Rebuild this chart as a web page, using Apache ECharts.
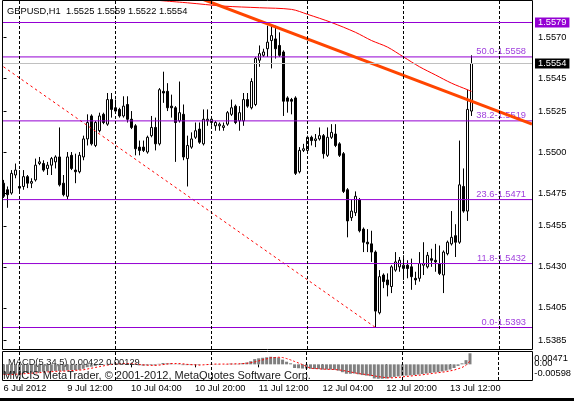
<!DOCTYPE html>
<html>
<head>
<meta charset="utf-8">
<script src="https://cdn.jsdelivr.net/npm/echarts@6.0.0/dist/echarts.min.js"></script>
<style>
html, body { margin: 0; padding: 0; background: #fff; }
#container { width: 574px; height: 401px; }
</style>
</head>
<body>
<div id="container"></div>
<script>
// GBPUSD H1, 6 Jul 2012 20:00 .. 13 Jul 2012 17:00 (bar index 0..117)
var opens = [1.5481,1.5477,1.5475,1.5486,1.5479,1.5479,1.5485,1.5481,1.5483,1.5493,
1.5493,1.5490,1.5492,1.5494,1.5497,1.5481,1.5473,1.5498,1.5489,1.5488,
1.5497,1.5508,1.5522,1.5504,1.5513,1.5523,1.5517,1.5532,1.5527,1.5526,
1.5522,1.5529,1.5520,1.5516,1.5503,1.5503,1.5500,1.5510,1.5515,1.5505,
1.5537,1.5537,1.5528,1.5527,1.5519,1.5523,1.5496,1.5503,1.5509,1.5514,
1.5505,1.5519,1.5518,1.5516,1.5516,1.5515,1.5517,1.5523,1.5528,1.5519,
1.5519,1.5532,1.5527,1.5529,1.5556,1.5559,1.5563,1.5568,1.5569,1.5565,
1.5561,1.5533,1.5532,1.5533,1.5488,1.5501,1.5501,1.5509,1.5507,1.5508,
1.5510,1.5498,1.5509,1.5511,1.5505,1.5499,1.5477,1.5460,1.5463,1.5471,
1.5453,1.5445,1.5444,1.5439,1.5402,1.5425,1.5422,1.5418,1.5428,1.5430,
1.5429,1.5431,1.5430,1.5423,1.5423,1.5431,1.5430,1.5435,1.5434,1.5432,
1.5425,1.5438,1.5444,1.5449,1.5445,1.5479,1.5464,1.5525];
var highs = [1.5483,1.5479,1.5489,1.5493,1.5489,1.5489,1.5486,1.5484,1.5496,1.5497,
1.5495,1.5494,1.5497,1.5498,1.5515,1.5486,1.5500,1.5500,1.5499,1.5500,
1.5510,1.5523,1.5523,1.5519,1.5524,1.5524,1.5536,1.5536,1.5532,1.5527,
1.5534,1.5534,1.5525,1.5517,1.5507,1.5507,1.5510,1.5522,1.5521,1.5539,
1.5549,1.5542,1.5535,1.5528,1.5543,1.5529,1.5510,1.5512,1.5518,1.5518,
1.5526,1.5526,1.5522,1.5519,1.5518,1.5518,1.5525,1.5532,1.5529,1.5528,
1.5536,1.5536,1.5545,1.5558,1.5565,1.5563,1.5577,1.5578,1.5577,1.5573,
1.5562,1.5534,1.5533,1.5534,1.5503,1.5505,1.5510,1.5510,1.5511,1.5515,
1.5511,1.5515,1.5517,1.5517,1.5506,1.5500,1.5478,1.5471,1.5476,1.5472,
1.5454,1.5453,1.5452,1.5440,1.5428,1.5426,1.5426,1.5431,1.5439,1.5436,
1.5437,1.5434,1.5435,1.5427,1.5439,1.5445,1.5439,1.5441,1.5444,1.5443,
1.5440,1.5446,1.5464,1.5456,1.5507,1.5490,1.5538,1.5559];
var lows = [1.5472,1.5466,1.5474,1.5484,1.5475,1.5477,1.5478,1.5478,1.5482,1.5492,
1.5488,1.5486,1.5486,1.5490,1.5479,1.5473,1.5471,1.5489,1.5481,1.5487,
1.5495,1.5504,1.5504,1.5503,1.5512,1.5517,1.5516,1.5521,1.5524,1.5521,
1.5521,1.5518,1.5514,1.5498,1.5498,1.5500,1.5499,1.5509,1.5501,1.5504,
1.5530,1.5525,1.5521,1.5494,1.5518,1.5495,1.5479,1.5502,1.5508,1.5505,
1.5504,1.5516,1.5516,1.5513,1.5513,1.5513,1.5516,1.5522,1.5517,1.5513,
1.5516,1.5527,1.5526,1.5528,1.5552,1.5558,1.5558,1.5551,1.5557,1.5558,
1.5522,1.5524,1.5523,1.5486,1.5487,1.5500,1.5500,1.5504,1.5503,1.5507,
1.5496,1.5497,1.5508,1.5503,1.5497,1.5475,1.5448,1.5458,1.5461,1.5451,
1.5439,1.5439,1.5433,1.5393,1.5401,1.5417,1.5412,1.5414,1.5427,1.5427,
1.5422,1.5423,1.5416,1.5419,1.5421,1.5425,1.5429,1.5430,1.5427,1.5425,
1.5414,1.5437,1.5443,1.5436,1.5444,1.5463,1.5458,1.5522];
var closes = [1.5473,1.5474,1.5487,1.5489,1.5478,1.5485,1.5481,1.5482,1.5492,1.5494,
1.5489,1.5492,1.5496,1.5497,1.5480,1.5474,1.5497,1.5490,1.5488,1.5498,
1.5508,1.5518,1.5505,1.5518,1.5522,1.5518,1.5532,1.5526,1.5525,1.5522,
1.5528,1.5520,1.5515,1.5502,1.5501,1.5501,1.5509,1.5515,1.5505,1.5538,
1.5536,1.5527,1.5527,1.5518,1.5524,1.5497,1.5504,1.5508,1.5513,1.5506,
1.5520,1.5520,1.5520,1.5518,1.5517,1.5516,1.5524,1.5527,1.5518,1.5524,
1.5532,1.5528,1.5543,1.5557,1.5560,1.5561,1.5567,1.5571,1.5563,1.5559,
1.5531,1.5531,1.5531,1.5487,1.5501,1.5502,1.5509,1.5507,1.5508,1.5510,
1.5499,1.5509,1.5512,1.5504,1.5498,1.5476,1.5458,1.5464,1.5473,1.5452,
1.5445,1.5444,1.5439,1.5403,1.5424,1.5421,1.5419,1.5430,1.5433,1.5434,
1.5431,1.5429,1.5424,1.5422,1.5432,1.5432,1.5437,1.5434,1.5433,1.5426,
1.5439,1.5445,1.5448,1.5445,1.5480,1.5464,1.5526,1.5554];

// MACD(5,34,5): main (histogram) and signal
var macdMain = [-0.0038,-0.0038,-0.0037,-0.0036,-0.0035,-0.0034,-0.0033,-0.0032,-0.0030,-0.0029,
-0.0028,-0.0027,-0.0026,-0.0025,-0.0025,-0.0025,-0.0023,-0.0022,-0.0022,-0.0021,
-0.0017,-0.0011,-0.0009,-0.0006,-0.0003,-0.0002,0.0002,0.0003,0.0003,0.0003,
0.0004,0.0003,0.0002,-0.0002,-0.0004,-0.0005,-0.0004,-0.0003,-0.0004,0.0002,
0.0005,0.0004,0.0004,0.0001,0.0002,-0.0003,-0.0003,-0.0003,-0.0002,-0.0002,
0.0000,0.0001,0.0001,0.0001,0.0001,0.0000,0.0001,0.0003,0.0002,0.0002,
0.0005,0.0007,0.0012,0.0020,0.0023,0.0025,0.0027,0.0029,0.0028,0.0026,
0.0018,0.0010,0.0004,-0.0014,-0.0015,-0.0016,-0.0016,-0.0017,-0.0018,-0.0018,
-0.0020,-0.0020,-0.0020,-0.0021,-0.0024,-0.0030,-0.0036,-0.0036,-0.0035,-0.0038,
-0.0041,-0.0043,-0.0045,-0.0054,-0.0055,-0.0055,-0.0054,-0.0051,-0.0048,-0.0046,
-0.0044,-0.0043,-0.0042,-0.0041,-0.0039,-0.0037,-0.0035,-0.0033,-0.0031,-0.0030,
-0.0027,-0.0024,-0.0020,-0.0014,-0.0006,0.0004,0.0016,0.00422];
var macdSignal = [-0.0039,-0.0039,-0.0039,-0.0038,-0.0037,-0.0036,-0.0035,-0.0034,-0.0033,-0.0032,
-0.0030,-0.0029,-0.0028,-0.0027,-0.0026,-0.0026,-0.0025,-0.0024,-0.0023,-0.0022,
-0.0021,-0.0018,-0.0015,-0.0012,-0.0009,-0.0006,-0.0003,-0.0001,0.0001,0.0002,
0.0003,0.0003,0.0003,0.0002,0.0000,-0.0002,-0.0003,-0.0004,-0.0004,-0.0003,
-0.0001,0.0001,0.0003,0.0003,0.0003,0.0002,0.0000,-0.0001,-0.0002,-0.0003,
-0.0002,-0.0001,0.0000,0.0001,0.0001,0.0001,0.0001,0.0001,0.0002,0.0002,
0.0003,0.0004,0.0006,0.0009,0.0013,0.0017,0.0021,0.0025,0.0026,0.0027,
0.0026,0.0022,0.0017,0.0011,0.0005,-0.0001,-0.0008,-0.0015,-0.0016,-0.0017,
-0.0018,-0.0019,-0.0019,-0.0020,-0.0021,-0.0023,-0.0026,-0.0029,-0.0032,-0.0035,
-0.0037,-0.0039,-0.0041,-0.0044,-0.0047,-0.0049,-0.0051,-0.0052,-0.0051,-0.0050,
-0.0048,-0.0046,-0.0045,-0.0043,-0.0042,-0.0040,-0.0038,-0.0036,-0.0034,-0.0032,
-0.0030,-0.0028,-0.0025,-0.0022,-0.0017,-0.0012,-0.0004,0.00129];

// moving average (red thin), read at some bars
var maBars = [36, 46, 55, 64, 72, 76, 82, 88, 92, 96, 100, 104, 108, 112, 116, 117];
var maValues = [1.5593, 1.5591, 1.5589, 1.5588, 1.5587, 1.5584, 1.5579, 1.5573, 1.5568, 1.5564, 1.5558, 1.5552, 1.5547, 1.5542, 1.5538, 1.5537];

// trendlines [bar, price]
var trendLine = [[50, 1.5593], [132.125, 1.5517]];
var fibBaseLine = [[0, 1.5552], [93, 1.5393]];

// fibonacci levels and horizontal line
var fibLevels = [0.0, 11.8, 23.6, 38.2, 50.0];
var fibPrices = [1.5393, 1.5432, 1.5471, 1.5519, 1.5558];
var hLinePrice = 1.5579;

// axes
var priceTicks = [1.5570, 1.5545, 1.5525, 1.5500, 1.5475, 1.5455, 1.5430, 1.5405, 1.5385];
var timeTickBars = [0, 16, 32, 48, 64, 80, 96, 112];
var timeTickLabels = ['6 Jul 2012', '9 Jul 12:00', '10 Jul 04:00', '10 Jul 20:00', '11 Jul 12:00', '12 Jul 04:00', '12 Jul 20:00', '13 Jul 12:00'];
var dayGridBars = [4, 28, 52, 76, 100, 124];
var macdLabels = ['0.00471', '0.00', '-0.00598'];
var macdLabelPos = [0.0023, 0.0004, -0.0034];

var font = 'Liberation Sans';
var violet = '#9400d3';
var xMin = -0.375, xMax = 132.125;
var last = opens.length - 1;

var dom = document.getElementById('container');
var myChart = echarts.init(dom, null, { renderer: 'canvas' });

var candles = opens.map(function (o, i) {
    return [i, o, closes[i], lows[i], highs[i]];
});
var maData = maBars.map(function (b, i) { return [b, maValues[i]]; });
var histData = macdMain.map(function (v, i) { return [i, v]; });
var signalData = macdSignal.map(function (v, i) { return [i, v]; });

// fib level lines: one plain line series per level, label on its right end point
var fibSeries = fibPrices.map(function (p, i) {
    return {
        name: 'fib ' + fibLevels[i].toFixed(1), type: 'line', xAxisIndex: 0, yAxisIndex: 0,
        data: [[xMin, p], [xMax, p]], z: 3,
        symbol: 'circle', symbolSize: 0, showSymbol: true,
        lineStyle: { color: violet, width: 1 },
        itemStyle: { color: violet },
        label: {
            show: true,
            formatter: function (prm) {
                return prm.dataIndex === 1 ? fibLevels[i].toFixed(1) + '-' + p.toFixed(4) : '';
            },
            position: 'left', align: 'right', verticalAlign: 'bottom',
            offset: [-1, -1],
            color: '#a040dd', fontSize: 9.3, fontFamily: font
        }
    };
});

var levelMarks = [
    {
        yAxis: hLinePrice,
        lineStyle: { color: violet, width: 1, type: 'solid' },
        label: {
            position: 'end', distance: 3, formatter: hLinePrice.toFixed(4),
            color: '#fff', backgroundColor: violet, padding: [1, 3, 0, 3]
        }
    },
    {
        yAxis: closes[last],
        lineStyle: { color: '#c0c0c0', width: 1, type: 'solid' },
        label: {
            position: 'end', distance: 3, formatter: closes[last].toFixed(4),
            color: '#fff', backgroundColor: '#000', padding: [1, 3, 0, 3]
        }
    }
];

var gridMarks = dayGridBars.map(function (b) { return { xAxis: b }; });
var gridMarkLine = {
    silent: true,
    symbol: ['none', 'none'],
    label: { show: false },
    lineStyle: { color: '#000', type: [3, 2], width: 1 },
    data: gridMarks
};

var headerText = 'GBPUSD,H1  ' + [opens[last], highs[last], lows[last], closes[last]].map(function (v) {
    return v.toFixed(4);
}).join(' ');
var macdText = 'MACD(5,34,5) ' + macdMain[last].toFixed(5) + ' ' + macdSignal[last].toFixed(5);

var axisText = { color: '#000', fontSize: 9.3, fontFamily: font };

// one axis per MACD scale label so overlapping labels all stay visible
var macdAxes = macdLabels.map(function (txt, i) {
    return {
        type: 'value', gridIndex: 1, position: 'right', min: -0.00598, max: 0.00471,
        axisLine: { show: false },
        splitLine: { show: false },
        axisTick: { show: false },
        axisLabel: echarts.util.extend({
            customValues: [macdLabelPos[i]],
            formatter: function () { return txt; },
            margin: 4
        }, axisText)
    };
});

myChart.setOption({
    animation: false,
    backgroundColor: '#fff',
    textStyle: { fontFamily: font },
    grid: [
        { left: 2, top: 1, width: 530, height: 348 },
        { left: 2, top: 352, width: 530, height: 28 }
    ],
    xAxis: [
        { type: 'value', gridIndex: 0, min: xMin, max: xMax, show: false },
        {
            type: 'value', gridIndex: 1, min: xMin, max: xMax,
            axisLine: { show: false },
            splitLine: { show: false },
            axisTick: { show: true, customValues: timeTickBars, length: 3, lineStyle: { color: '#000' } },
            axisLabel: echarts.util.extend({
                customValues: timeTickBars,
                formatter: function (v) { return timeTickLabels[timeTickBars.indexOf(Math.round(v))]; },
                align: 'left', margin: 4
            }, axisText)
        }
    ],
    yAxis: [
        {
            type: 'value', gridIndex: 0, position: 'right', min: 1.537989, max: 1.559211,
            axisLine: { show: false },
            splitLine: { show: false },
            axisTick: { show: true, customValues: priceTicks, length: 3, lineStyle: { color: '#000' } },
            axisLabel: echarts.util.extend({
                customValues: priceTicks,
                formatter: function (v) { return v.toFixed(4); },
                margin: 6, padding: [0, 0, 4, 0]
            }, axisText)
        }
    ].concat(macdAxes),
    series: [
        {
            name: 'grid', type: 'line', xAxisIndex: 0, yAxisIndex: 0, data: [], z: 1,
            markLine: gridMarkLine
        },
        {
            name: 'grid2', type: 'line', xAxisIndex: 1, yAxisIndex: 1, data: [], z: 1,
            markLine: gridMarkLine
        },
        {
            name: 'GBPUSD', type: 'candlestick', xAxisIndex: 0, yAxisIndex: 0,
            data: candles, barWidth: 2, z: 2,
            itemStyle: {
                color: '#fff', color0: '#000',
                borderColor: '#000', borderColor0: '#000', borderWidth: 1
            }
        },
        {
            name: 'levels', type: 'line', xAxisIndex: 0, yAxisIndex: 0, data: [], z: 3,
            markLine: {
                silent: true,
                precision: 5,
                symbol: ['none', 'none'],
                label: { fontSize: 9.3, fontFamily: font },
                data: levelMarks
            }
        },
        {
            name: 'fibline', type: 'line', xAxisIndex: 0, yAxisIndex: 0,
            data: fibBaseLine, symbol: 'none', z: 3,
            lineStyle: { color: '#ff0000', width: 1, type: [2.5, 3] }
        },
        {
            name: 'MA', type: 'line', xAxisIndex: 0, yAxisIndex: 0,
            data: maData, symbol: 'none', smooth: 0.3, z: 3,
            lineStyle: { color: '#ff0000', width: 1 }
        },
        {
            name: 'trend', type: 'line', xAxisIndex: 0, yAxisIndex: 0,
            data: trendLine, symbol: 'none', z: 4,
            lineStyle: { color: '#ff4500', width: 3 }
        },
        {
            name: 'MACD', type: 'bar', xAxisIndex: 1, yAxisIndex: 1,
            data: histData, barWidth: 3, z: 2,
            itemStyle: { color: '#808080' }
        },
        {
            name: 'Signal', type: 'line', xAxisIndex: 1, yAxisIndex: 1,
            data: signalData, symbol: 'none', z: 3,
            lineStyle: { color: '#ff0000', width: 1, type: [2, 2] }
        }
    ].concat(fibSeries),
    graphic: [
        { type: 'rect', silent: true, z: 50, shape: { x: 2.5, y: 0.5, width: 530, height: 349 }, style: { fill: 'none', stroke: '#000', lineWidth: 1 } },
        { type: 'rect', silent: true, z: 50, shape: { x: 2.5, y: 351.5, width: 530, height: 29 }, style: { fill: 'none', stroke: '#000', lineWidth: 1 } },
        { type: 'rect', silent: true, z: 50, shape: { x: 0, y: 398, width: 574, height: 3 }, style: { fill: '#000' } },
        { type: 'text', silent: true, z: 60, x: 7, y: 11, style: { text: headerText, fill: '#000', fontSize: 9.3, fontFamily: font, verticalAlign: 'middle' } },
        { type: 'text', silent: true, z: 60, x: 8, y: 362, style: { text: macdText, fill: '#202020', fontSize: 9.3, fontFamily: font, verticalAlign: 'middle' } },
        { type: 'text', silent: true, z: 60, x: 3, y: 376, style: { text: 'MMCIS MetaTrader, \u00a9 2001-2012, MetaQuotes Software Corp.', fill: '#1a1a1a', fontSize: 11, fontFamily: font, verticalAlign: 'middle' } }
    ]
});

window.addEventListener('resize', function () {
    myChart.resize();
});
</script>
</body>
</html>
